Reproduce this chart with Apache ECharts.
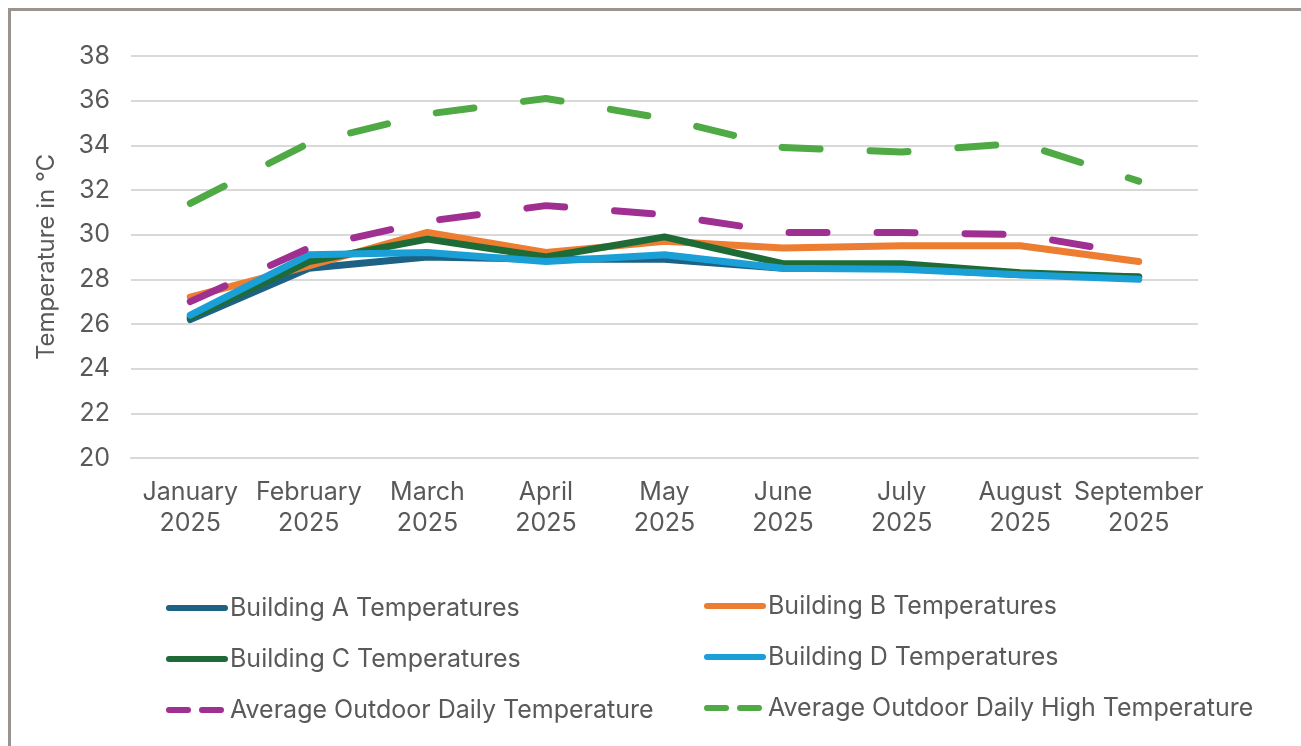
<!DOCTYPE html>
<html>
<head>
<meta charset="utf-8">
<script src="https://cdn.jsdelivr.net/npm/echarts@6/dist/echarts.min.js"></script>
<style>
  html, body { margin: 0; padding: 0; background: #ffffff; overflow: hidden; }
  #frame { position: absolute; left: 8px; top: 8px; width: 1400px; height: 800px;
           border-top: 3px solid #9b938e; border-left: 3px solid #9b938e; }
  #chart { position: absolute; left: 0; top: 0; width: 1301px; height: 746px; }
</style>
</head>
<body>
<div id="frame"></div>
<div id="chart"></div>
<script>
const months = ['January', 'February', 'March', 'April', 'May', 'June', 'July', 'August', 'September'];
const year = '2025';
const categories = months.map(m => m + '\n' + year);

const buildingA = [26.2, 28.5, 29.0, 28.9, 28.9, 28.5, 28.5, 28.2, 28.1];
const buildingB = [27.2, 28.6, 30.1, 29.2, 29.7, 29.4, 29.5, 29.5, 28.8];
const buildingC = [26.3, 28.8, 29.8, 29.0, 29.9, 28.7, 28.7, 28.3, 28.1];
const buildingD = [26.4, 29.1, 29.2, 28.8, 29.1, 28.5, 28.45, 28.2, 28.0];
const outdoorAvg = [27.0, 29.4, 30.6, 31.3, 30.9, 30.1, 30.1, 30.0, 29.1];
const outdoorHigh = [31.4, 34.1, 35.4, 36.1, 35.2, 33.9, 33.7, 34.1, 32.4];

const names = ['Building A Temperatures', 'Building B Temperatures', 'Building C Temperatures',
  'Building D Temperatures', 'Average Outdoor Daily Temperature', 'Average Outdoor Daily High Temperature'];
const colors = ['#1d6185', '#ed7d31', '#1e6b37', '#1aa0d6', '#a02f92', '#4faa45'];
const values = [buildingA, buildingB, buildingC, buildingD, outdoorAvg, outdoorHigh];
const dashed = [false, false, false, false, true, true];

const FONT = 'Inter';
const TXT = '#595959';

const series = names.map((n, i) => ({
  name: n,
  type: 'line',
  data: values[i],
  symbol: 'none',
  showSymbol: false,
  z: 2 + i,
  lineStyle: {
    color: colors[i],
    width: 7,
    type: dashed[i] ? [38, 50] : 'solid',
    cap: 'round',
    join: 'round'
  },
  itemStyle: { color: colors[i] }
}));

function legendItem(i) {
  return {
    name: names[i],
    itemStyle: { color: 'transparent', borderWidth: 0, opacity: 0 },
    lineStyle: {
      color: colors[i],
      width: 6,
      type: dashed[i] ? [19, 14] : 'solid',
      cap: 'round'
    }
  };
}

const legendCommon = {
  orient: 'vertical',
  itemWidth: 56,
  itemHeight: 14,
  itemGap: 21,
  height: 160,
  textStyle: { fontFamily: FONT, fontSize: 25, lineHeight: 30, color: TXT },
  selectedMode: false
};

const chart = echarts.init(document.getElementById('chart'), null, { renderer: 'canvas' });
chart.setOption({
  animation: false,
  backgroundColor: 'transparent',
  color: colors,
  textStyle: { fontFamily: FONT },
  grid: { left: 131, right: 103, top: 56, bottom: 288, containLabel: false },
  legend: [
    Object.assign({}, legendCommon, { left: 161, top: 588, data: [0, 2, 4].map(legendItem) }),
    Object.assign({}, legendCommon, { left: 699, top: 586, data: [1, 3, 5].map(legendItem) })
  ],
  xAxis: {
    type: 'category',
    data: categories,
    boundaryGap: true,
    axisLine: { show: true, lineStyle: { color: '#d9d9d9', width: 2 } },
    axisTick: { show: false },
    axisLabel: {
      interval: 0,
      margin: 19,
      fontFamily: FONT,
      fontSize: 25,
      lineHeight: 31,
      color: TXT
    }
  },
  yAxis: {
    type: 'value',
    min: 20,
    max: 38,
    interval: 2,
    name: 'Temperature in °C',
    nameLocation: 'middle',
    nameRotate: 90,
    nameGap: 72,
    nameTextStyle: { fontFamily: FONT, fontSize: 24, color: TXT },
    axisLine: { show: false },
    axisTick: { show: false },
    splitLine: { show: true, lineStyle: { color: '#d9d9d9', width: 2 } },
    axisLabel: { margin: 21, fontFamily: FONT, fontSize: 25, color: TXT }
  },
  series: series
});
</script>
</body>
</html>
